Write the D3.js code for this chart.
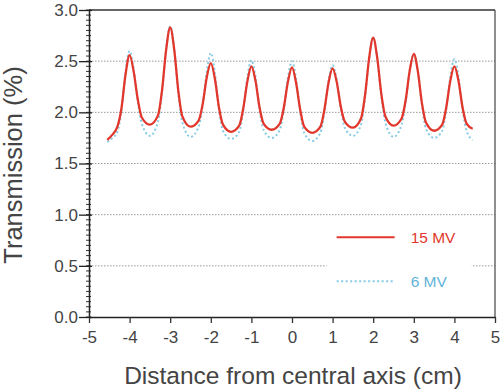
<!DOCTYPE html>
<html>
<head>
<meta charset="utf-8">
<script src="https://cdn.jsdelivr.net/npm/d3@7"></script>
<style>
  body { margin: 0; background: #fff; }
  text { font-family: "Liberation Sans", Arial, sans-serif; }
</style>
</head>
<body>
<div id="chart-area"></div>
<script>
// distance from central axis (cm)
var xs = [-4.55, -4.45,
  -4.3, -4.2, -4.1, -4.0, -3.9, -3.8, -3.7, -3.5,
  -3.3, -3.2, -3.1, -3.0, -2.9, -2.8, -2.7, -2.5,
  -2.3, -2.2, -2.1, -2.0, -1.9, -1.8, -1.7, -1.5,
  -1.3, -1.2, -1.1, -1.0, -0.9, -0.8, -0.7, -0.5,
  -0.3, -0.2, -0.1, 0.0, 0.1, 0.2, 0.3, 0.5,
  0.7, 0.8, 0.9, 1.0, 1.1, 1.2, 1.3, 1.5,
  1.7, 1.8, 1.9, 2.0, 2.1, 2.2, 2.3, 2.5,
  2.7, 2.8, 2.9, 3.0, 3.1, 3.2, 3.3, 3.5,
  3.7, 3.8, 3.9, 4.0, 4.1, 4.2, 4.3, 4.45];

// transmission (%) 15 MV
var mv15 = [1.73, 1.77,
  1.86, 2.04, 2.37, 2.56, 2.40, 2.13, 1.95, 1.88,
  1.97, 2.22, 2.61, 2.83, 2.61, 2.21, 1.96, 1.86,
  1.92, 2.08, 2.34, 2.48, 2.33, 2.05, 1.88, 1.81,
  1.87, 2.04, 2.30, 2.45, 2.31, 2.05, 1.89, 1.83,
  1.89, 2.05, 2.30, 2.44, 2.29, 2.03, 1.86, 1.80,
  1.86, 2.03, 2.29, 2.43, 2.30, 2.06, 1.91, 1.85,
  1.94, 2.17, 2.53, 2.73, 2.53, 2.18, 1.96, 1.87,
  1.94, 2.12, 2.41, 2.57, 2.40, 2.09, 1.90, 1.82,
  1.88, 2.05, 2.31, 2.45, 2.31, 2.05, 1.89, 1.84];

// transmission (%) 6 MV
var mv6 = [1.71, 1.74,
  1.81, 2.02, 2.39, 2.60, 2.42, 2.11, 1.89, 1.77,
  1.91, 2.20, 2.62, 2.84, 2.62, 2.19, 1.90, 1.76,
  1.86, 2.06, 2.40, 2.58, 2.39, 2.03, 1.82, 1.74,
  1.81, 2.02, 2.34, 2.51, 2.35, 2.03, 1.83, 1.75,
  1.83, 2.03, 2.34, 2.50, 2.33, 2.01, 1.80, 1.72,
  1.80, 2.01, 2.31, 2.46, 2.32, 2.04, 1.85, 1.77,
  1.88, 2.15, 2.53, 2.73, 2.53, 2.16, 1.90, 1.76,
  1.88, 2.10, 2.41, 2.57, 2.40, 2.07, 1.84, 1.75,
  1.82, 2.03, 2.35, 2.52, 2.35, 2.03, 1.82, 1.73];

var xTicks = [-5, -4, -3, -2, -1, 0, 1, 2, 3, 4, 5];
var yTicks = [0, 0.5, 1.0, 1.5, 2.0, 2.5, 3.0];
var gridValues = [0.5, 1.0, 1.5, 2.0, 2.5];
var seriesNames = ["15 MV", "6 MV"];

var margin = { left: 89, right: 8, top: 10, bottom: 75 };
var width = 503 - margin.left - margin.right;
var height = 392 - margin.top - margin.bottom;

var svg = d3.select("#chart-area")
    .append("svg")
    .attr("width", 503)
    .attr("height", 392);

var g = svg.append("g")
    .attr("transform", "translate(" + margin.left + "," + margin.top + ")");

var x = d3.scaleLinear().domain([-5, 5]).range([0, width]);
var y = d3.scaleLinear().domain([0, 3]).range([height, 0]);

var red = "#e2372c";
var blue = "#86cbe4";

// grid
g.selectAll(".grid")
    .data(gridValues)
    .enter().append("line")
    .attr("class", "grid")
    .attr("x1", 0)
    .attr("x2", width)
    .attr("y1", function (d) { return y(d); })
    .attr("y2", function (d) { return y(d); })
    .attr("stroke", "#9a9a9a")
    .attr("stroke-width", 1)
    .attr("stroke-dasharray", "1.5,1.5");

// frame top / right
g.append("line")
    .attr("x1", 0).attr("x2", width)
    .attr("y1", 0).attr("y2", 0)
    .attr("stroke", "#333").attr("stroke-width", 1.6);
g.append("line")
    .attr("x1", width).attr("x2", width)
    .attr("y1", 0).attr("y2", height)
    .attr("stroke", "#444").attr("stroke-width", 1.2);

// lines
var line = d3.line()
    .x(function (d) { return x(d[0]); })
    .y(function (d) { return y(d[1]); })
    .curve(d3.curveMonotoneX);

g.append("path")
    .datum(d3.zip(xs, mv6))
    .attr("fill", "none")
    .attr("stroke", blue)
    .attr("stroke-width", 2)
    .attr("stroke-dasharray", "2,2.5")
    .attr("d", line);

g.append("path")
    .datum(d3.zip(xs, mv15))
    .attr("fill", "none")
    .attr("stroke", red)
    .attr("stroke-width", 2.3)
    .attr("d", line);

// legend
var legend = g.append("g")
    .attr("transform", "translate(" + x(1.1) + "," + y(0.78) + ")");

legend.append("rect")
    .attr("x", -10).attr("y", -10)
    .attr("width", 145).attr("height", 66)
    .attr("fill", "#fff");

seriesNames.forEach(function (name, i) {
    var row = legend.append("g")
        .attr("transform", "translate(0," + i * 44 + ")");
    row.append("line")
        .attr("x1", 0).attr("x2", 58)
        .attr("y1", 0).attr("y2", 0)
        .attr("stroke", i == 0 ? red : blue)
        .attr("stroke-width", 2)
        .attr("stroke-dasharray", i == 0 ? null : "2,2.5");
    row.append("text")
        .attr("x", 74)
        .attr("y", 6)
        .attr("font-size", "15.5px")
        .attr("fill", i == 0 ? red : "#5fb3d8")
        .text(name);
});

// y axis
var yMinor = d3.range(0, 3.001, 0.05);
g.selectAll(".yminor")
    .data(yMinor)
    .enter().append("line")
    .attr("x1", -3).attr("x2", 2)
    .attr("y1", function (d) { return y(d); })
    .attr("y2", function (d) { return y(d); })
    .attr("stroke", "#333").attr("stroke-width", 1);

var yAxisCall = d3.axisLeft(y)
    .tickValues(yTicks)
    .tickFormat(d3.format(".1f"))
    .tickSizeInner(10)
    .tickSizeOuter(0)
    .tickPadding(1);
var yAxis = g.append("g").call(yAxisCall);
yAxis.select(".domain").attr("stroke", "#222").attr("stroke-width", 1.5);
yAxis.selectAll(".tick line").attr("x1", 3).attr("stroke", "#222").attr("stroke-width", 1.3);
yAxis.selectAll(".tick text")
    .attr("font-size", "17px")
    .attr("font-family", "Liberation Sans, Arial, sans-serif")
    .attr("fill", "#444");

// x axis
var xAxisCall = d3.axisBottom(x)
    .tickValues(xTicks)
    .tickFormat(function (d) { return String(d); })
    .tickSizeInner(6)
    .tickSizeOuter(0)
    .tickPadding(8);
var xAxis = g.append("g")
    .attr("transform", "translate(0," + height + ")")
    .call(xAxisCall);
xAxis.select(".domain").attr("stroke", "#222").attr("stroke-width", 1.5);
xAxis.selectAll(".tick line").attr("stroke", "#333").attr("stroke-width", 1.3);
xAxis.selectAll(".tick text")
    .attr("font-size", "17px")
    .attr("font-family", "Liberation Sans, Arial, sans-serif")
    .attr("fill", "#444");

// labels
g.append("text")
    .attr("x", 293 - margin.left)
    .attr("y", 384 - margin.top)
    .attr("font-size", "24.5px")
    .attr("text-anchor", "middle")
    .attr("fill", "#444")
    .text("Distance from central axis (cm)");

g.append("text")
    .attr("x", -(165 - margin.top))
    .attr("y", -(margin.left - 22))
    .attr("font-size", "25.5px")
    .attr("text-anchor", "middle")
    .attr("fill", "#444")
    .attr("transform", "rotate(-90)")
    .text("Transmission (%)");
</script>
</body>
</html>
